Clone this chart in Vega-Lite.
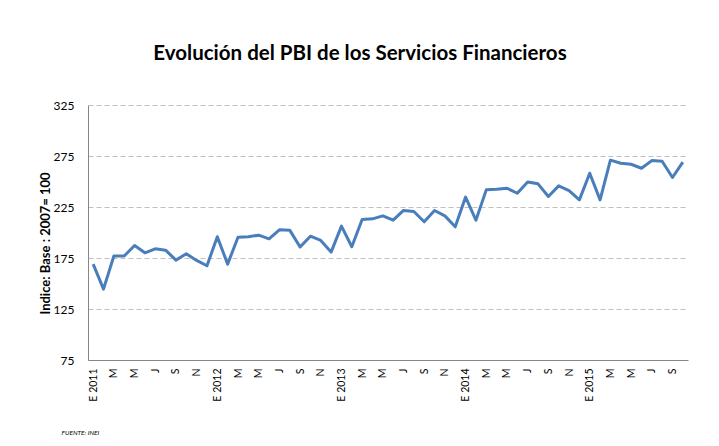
{
  "$schema": "https://vega.github.io/schema/vega-lite/v6.json",
  "autosize": {"type": "none"},
  "width": 600,
  "height": 255,
  "padding": {"left": 88, "top": 105, "right": 31, "bottom": 86},
  "background": "white",
  "config": {"font": "Lato", "view": {"stroke": null}},
  "title": {
    "text": "Evolución del PBI de los Servicios Financieros",
    "font": "Lato",
    "fontSize": 20.5,
    "fontWeight": "bold",
    "color": "#000000",
    "anchor": "middle",
    "frame": "group",
    "dx": -28,
    "offset": 35
  },
  "data": {
    "values": [
      {"mes": "2011-01", "indice": 169.0},
      {"mes": "2011-02", "indice": 144.5},
      {"mes": "2011-03", "indice": 177.0},
      {"mes": "2011-04", "indice": 177.0},
      {"mes": "2011-05", "indice": 187.3},
      {"mes": "2011-06", "indice": 180.1},
      {"mes": "2011-07", "indice": 184.0},
      {"mes": "2011-08", "indice": 182.7},
      {"mes": "2011-09", "indice": 172.9},
      {"mes": "2011-10", "indice": 179.1},
      {"mes": "2011-11", "indice": 172.6},
      {"mes": "2011-12", "indice": 167.4},
      {"mes": "2012-01", "indice": 195.8},
      {"mes": "2012-02", "indice": 169.0},
      {"mes": "2012-03", "indice": 195.4},
      {"mes": "2012-04", "indice": 195.8},
      {"mes": "2012-05", "indice": 197.4},
      {"mes": "2012-06", "indice": 193.8},
      {"mes": "2012-07", "indice": 202.6},
      {"mes": "2012-08", "indice": 202.3},
      {"mes": "2012-09", "indice": 185.7},
      {"mes": "2012-10", "indice": 196.4},
      {"mes": "2012-11", "indice": 192.2},
      {"mes": "2012-12", "indice": 180.8},
      {"mes": "2013-01", "indice": 206.2},
      {"mes": "2013-02", "indice": 186.0},
      {"mes": "2013-03", "indice": 212.7},
      {"mes": "2013-04", "indice": 213.4},
      {"mes": "2013-05", "indice": 216.3},
      {"mes": "2013-06", "indice": 212.1},
      {"mes": "2013-07", "indice": 221.6},
      {"mes": "2013-08", "indice": 220.6},
      {"mes": "2013-09", "indice": 210.5},
      {"mes": "2013-10", "indice": 221.6},
      {"mes": "2013-11", "indice": 216.3},
      {"mes": "2013-12", "indice": 205.6},
      {"mes": "2014-01", "indice": 234.7},
      {"mes": "2014-02", "indice": 212.1},
      {"mes": "2014-03", "indice": 241.8},
      {"mes": "2014-04", "indice": 242.4},
      {"mes": "2014-05", "indice": 243.4},
      {"mes": "2014-06", "indice": 238.5},
      {"mes": "2014-07", "indice": 249.6},
      {"mes": "2014-08", "indice": 247.7},
      {"mes": "2014-09", "indice": 235.3},
      {"mes": "2014-10", "indice": 245.7},
      {"mes": "2014-11", "indice": 241.1},
      {"mes": "2014-12", "indice": 232.0},
      {"mes": "2015-01", "indice": 258.1},
      {"mes": "2015-02", "indice": 232.0},
      {"mes": "2015-03", "indice": 270.9},
      {"mes": "2015-04", "indice": 267.9},
      {"mes": "2015-05", "indice": 266.9},
      {"mes": "2015-06", "indice": 263.0},
      {"mes": "2015-07", "indice": 270.5},
      {"mes": "2015-08", "indice": 269.9},
      {"mes": "2015-09", "indice": 253.9},
      {"mes": "2015-10", "indice": 269.0}
    ]
  },
  "mark": {"type": "line", "color": "#4a7ebb", "strokeWidth": 3, "strokeJoin": "round"},
  "encoding": {
    "x": {
      "field": "mes",
      "type": "ordinal",
      "sort": null,
      "scale": {"type": "point", "padding": 0.5},
      "axis": {
        "labelExpr": "(toNumber(slice(datum.value,5,7)) == 1 ? 'E ' + slice(datum.value,0,4) : ['','','M','','M','','J','','S','','N',''][toNumber(slice(datum.value,5,7)) - 1])",
        "labelAngle": 270,
        "labelFontSize": 10.5,
        "labelColor": "#000000",
        "labelPadding": 8,
        "labelOverlap": false,
        "ticks": false,
        "tickSize": 0,
        "grid": false,
        "domainColor": "#868686",
        "domainWidth": 1,
        "title": "FUENTE: INEI",
        "titleFontSize": 6.5,
        "titleFontStyle": "italic",
        "titleFontWeight": "normal",
        "titleColor": "#000000",
        "titleAlign": "left",
        "titleBaseline": "alphabetic",
        "titleAnchor": "start",
        "titleX": -27,
        "titleY": 74
      }
    },
    "y": {
      "field": "indice",
      "type": "quantitative",
      "scale": {"domain": [75, 325], "nice": false, "zero": false},
      "axis": {
        "values": [75, 125, 175, 225, 275, 325],
        "labelFontSize": 12,
        "labelColor": "#000000",
        "labelPadding": 14,
        "ticks": false,
        "tickSize": 0,
        "grid": true,
        "gridColor": "#c0c0c0",
        "gridDash": [5, 3],
        "gridWidth": 1,
        "domainColor": "#868686",
        "domainWidth": 1,
        "title": "Indice: Base : 2007= 100",
        "titleFontSize": 13,
        "titleFontWeight": "bold",
        "titleColor": "#000000",
        "titleAngle": 270,
        "titleAlign": "center",
        "titleBaseline": "middle",
        "titleX": -43,
        "titleY": 138
      }
    }
  }
}
